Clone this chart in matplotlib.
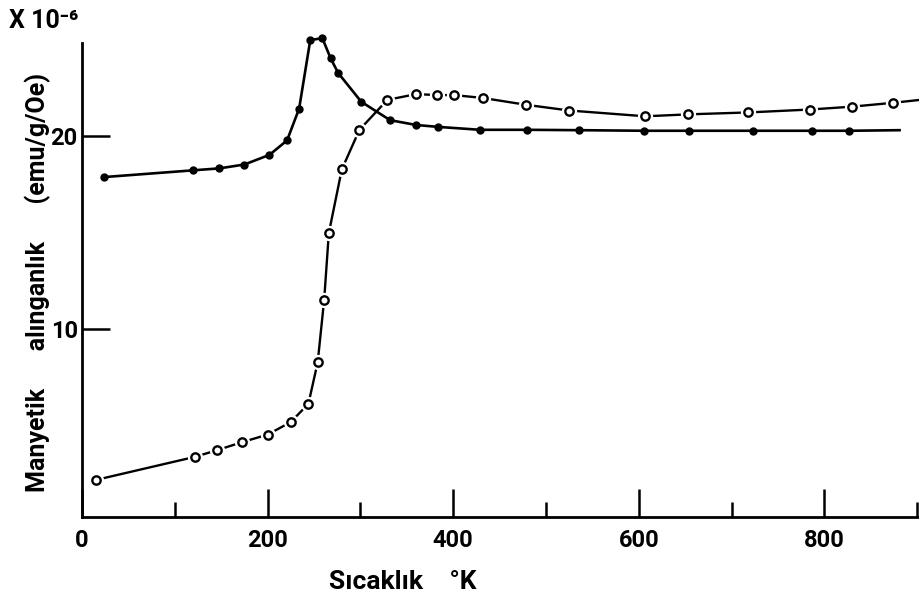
import matplotlib.pyplot as plt

# dolu noktali egri (son deger sadece cizgi ucu)
t_dolu = [24, 120, 148, 175, 202, 221, 234, 246, 259, 268, 276, 301, 332, 360, 384,
          429, 479, 536, 606, 654, 723, 787, 827, 881]
chi_dolu = [17.85, 18.2, 18.3, 18.5, 19.0, 19.75, 21.4, 24.95, 25.05, 24.0, 23.25, 21.75,
            20.8, 20.55, 20.45, 20.3, 20.3, 20.28, 20.25, 20.25, 20.25, 20.25, 20.25, 20.28]

# bos noktali egri (son deger sadece cizgi ucu)
t_bos = [15, 122, 146, 172, 200, 225, 244, 254, 261, 266, 280, 299, 329, 360, 383, 401,
         432, 478, 525, 607, 653, 718, 784, 830, 874, 903]
chi_bos = [2.15, 3.35, 3.7, 4.1, 4.5, 5.15, 6.1, 8.25, 11.5, 14.95, 18.25, 20.3, 21.85,
           22.15, 22.1, 22.1, 21.95, 21.6, 21.3, 21.0, 21.1, 21.2, 21.35, 21.5, 21.7, 21.85]

xtick_major = [0, 200, 400, 600, 800]
xtick_minor = [100, 300, 500, 700, 900]
ytick_vals = [10, 20]

plt.rcParams['font.family'] = ['Roboto', 'DejaVu Sans']
plt.rcParams['font.weight'] = 'bold'

fig = plt.figure(figsize=(9.2, 6.08), dpi=100)
ax = fig.add_axes([0.0891, 0.1497, 0.9109, 0.7796])

ax.plot(t_dolu, chi_dolu, color='black', lw=1.9, marker='o', ms=5,
        markevery=list(range(len(t_dolu) - 1)), clip_on=False, zorder=3)

# beyaz halka: bos noktalar etrafinda cizgi boslugu
ax.plot(t_bos, chi_bos, color='black', lw=1.7, clip_on=False, zorder=2)
ax.plot(t_bos[:-1], chi_bos[:-1], ls='none', marker='o', ms=10, mfc='white',
        mec='white', clip_on=False, zorder=4)
ax.plot(t_bos[:-1], chi_bos[:-1], ls='none', marker='o', ms=6, mfc='white',
        mec='black', mew=1.7, clip_on=False, zorder=5)

ax.set_xlim(0, 903)
ax.set_ylim(0.23, 24.8)

for s in ['top', 'right']:
    ax.spines[s].set_visible(False)
ax.spines['left'].set_linewidth(2)
ax.spines['bottom'].set_linewidth(2)

ax.set_xticks(xtick_major)
ax.set_xticks(xtick_minor, minor=True)
ax.set_yticks(ytick_vals)
ax.tick_params(axis='x', which='major', direction='in', length=20, width=1.8,
               labelsize=17, pad=9)
ax.tick_params(axis='x', which='minor', direction='in', length=11, width=1.8)
ax.tick_params(axis='y', direction='in', length=20, width=1.8, labelsize=17, pad=3)
ax.tick_params(axis='y', which='minor', left=False)
for lbl in ax.get_xticklabels() + ax.get_yticklabels():
    lbl.set_fontweight('bold')

fig.text(0.438, 0.043, 'Sıcaklık    °K', ha='center', va='center', fontsize=19,
         fontweight='bold')
fig.text(0.041, 0.535, 'Manyetik      alınganlık      (emu/g/Oe)', rotation=90,
         ha='center', va='center', fontsize=18, fontweight='bold')
fig.text(0.047, 0.965, 'X 10⁻⁶', ha='center', va='center', fontsize=18,
         fontweight='bold')

fig.savefig('out.png', dpi=100)
